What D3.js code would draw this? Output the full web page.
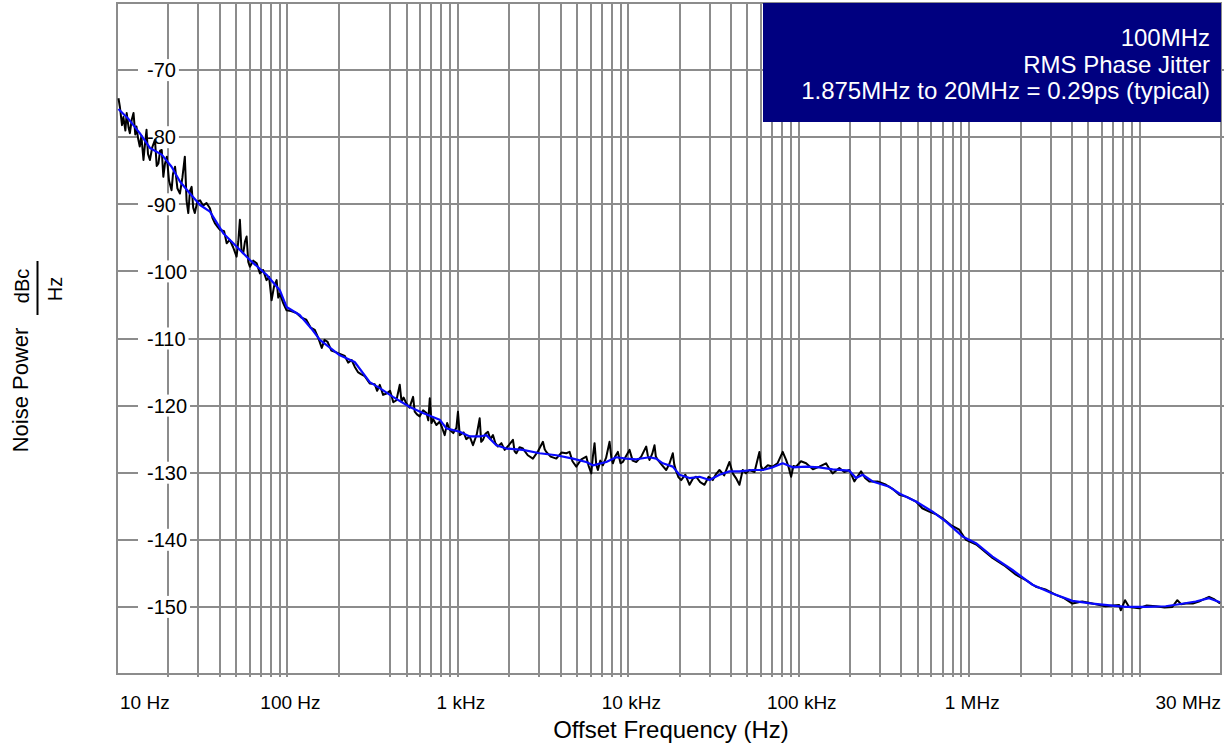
<!DOCTYPE html>
<html>
<head>
<meta charset="utf-8">
<script src="https://cdn.jsdelivr.net/npm/d3@7"></script>
<style>
body { margin: 0; background: #fff; }
svg { display: block; font-family: "Liberation Sans", Arial, sans-serif; }
</style>
</head>
<body>
<div id="c"></div>
<script>
"use strict";

// smoothed trace (blue)
const blueFreq = [10.2, 11.6, 13.6, 15.6, 18.3, 20.9, 23.4, 26.8, 30.7, 35.1, 42, 48.1, 60.2, 75.4, 90.2, 98.8,
    118, 138, 155, 203, 248, 304, 348, 416, 522, 624, 782, 856, 1025, 1173, 1342, 1469, 1681, 1925, 2408,
    3016, 3779, 4727, 5665, 6195, 7422, 8495, 9721, 11130, 13310, 14570, 15930, 18230, 19960, 22850, 26150,
    29930, 34250, 39200, 44860, 53680, 61430, 70310, 80470, 92090, 110400, 132000, 158000, 198000, 216700,
    236800, 271200, 339800, 388900, 487200, 609300, 730200, 913400, 1095000, 1369000, 1794000, 2350000,
    3078000, 4031000, 5281000, 6918000, 8290000, 10860000, 14220000, 17020000, 21320000, 25520000, 29600000]
const blueLevel = [-75.8, -77.2, -79.4, -81.6, -82.6, -84.4, -86.6, -88.4, -90.1, -91.1, -94.3, -95.8, -98.3, -100.5, -102.8, -105.3,
    -106.5, -108.5, -110.2, -112.5, -113.5, -116.5, -117.4, -118.7, -120.2, -121.1, -122.1, -123.4, -123.9, -124.6, -124.6, -124.4, -125.9, -126.4, -126.6,
    -127.1, -127.4, -127.9, -128.4, -128.9, -128.4, -127.7, -127.9, -128.0, -127.7, -127.9, -128.6, -129.1, -130.3, -130.8, -130.6,
    -131.1, -130.3, -129.8, -129.8, -129.6, -129.6, -129.2, -128.6, -129.2, -129.1, -129.2, -129.5, -129.7, -130.8,
    -130.3, -131.3, -132.1, -133.1, -134.3, -135.8, -137.3, -139.5, -140.5, -142.5, -144.5, -146.7,
    -148.0, -149.1, -149.5, -149.8, -150.0, -150.0, -149.9, -149.6, -149.2, -148.7, -149.3]

// raw measurement (black), rows of ten
const rawFreq = [
    10.2, 10.4, 10.7, 10.9, 11.2, 11.4, 11.7, 11.9, 12.2, 12.5,
    12.8, 13.0, 13.3, 13.6, 13.9, 14.3, 14.6, 14.9, 15.2, 15.6,
    16.1, 16.7, 17.1, 17.5, 17.9, 18.3, 18.7, 19.1, 19.6, 20.2,
    20.9, 21.3, 21.9, 22.6, 23.4, 24.2, 25.0, 25.6, 26.2, 26.8,
    27.4, 28.0, 28.6, 29.6, 30.7, 32.0, 33.5, 35.1, 36.3, 37.5,
    39.0, 40.2, 42.5, 44.0, 45.9, 48.0, 50.3, 51.5, 52.6, 53.8,
    55.0, 56.3, 57.6, 58.9, 60.2, 63.0, 66.0, 69.0, 72.0, 75.4,
    78.0, 80.7, 83.5, 86.4, 88.3, 90.2, 94.0, 98.8, 105, 113,
    121, 129, 137, 144.7, 152, 159, 165, 172, 181, 190,
    203, 217, 227, 238, 248, 259, 270, 284, 304, 325,
    336, 348, 364, 381, 400, 418, 436, 456, 467, 480,
    499, 520, 546, 558, 575, 597, 625, 654, 670, 684,
    700, 715, 748, 782, 808, 837, 865, 895, 940, 980,
    1001, 1025, 1080, 1120, 1173, 1226, 1290, 1342, 1370, 1403,
    1450, 1501, 1550, 1606, 1660, 1718, 1800, 1881, 1990, 2104,
    2150, 2203, 2300, 2408, 2570, 2755, 2950, 3154, 3230, 3302,
    3500, 3779, 4050, 4325, 4522, 4700, 4950, 5300, 5665, 5850,
    6060, 6200, 6336, 6480, 6625, 6850, 7088, 7400, 7760, 7950,
    8113, 8400, 8679, 9000, 9283, 9700, 10160, 10600, 11130, 11900,
    12730, 13000, 13310, 13800, 14240, 14500, 14890, 15800, 16680, 17400,
    18230, 18600, 19090, 19700, 20420, 21600, 22850, 23900, 25000, 26400,
    27970, 29600, 31290, 32700, 34250, 36500, 39200, 40990, 42800, 44860,
    46900, 49000, 51330, 55000, 58750, 60000, 61430, 65800, 70310, 75000,
    80470, 84250, 87000, 90150, 93000, 96420, 103000, 110400, 121000, 132000,
    144500, 151000, 158000, 173000, 185000, 198000, 211800, 222000, 231900, 245000,
    259300, 290000, 324900, 355000, 388800, 430000, 487100, 530000, 582900, 640000,
    697600, 780000, 873700, 956600, 1100000, 1369000, 1600000, 1878000, 2150000, 2460000,
    2800000, 3223000, 3600000, 4031000, 4600000, 5281000, 6300000, 7572000, 7748000, 8210000,
    8666000, 9920000, 11000000, 12430000, 14000000, 15550000, 16630000, 17500000, 18630000, 20500000,
    22290000, 24000000, 25520000, 27500000, 29600000]
const rawLevel = [
    -74.2, -75.5, -78.2, -77.0, -79.0, -76.4, -78.6, -79.4, -77.4, -76.4,
    -79.6, -78.4, -80.2, -81.4, -79.8, -83.4, -81.0, -78.9, -82.5, -83.4,
    -81.5, -80.4, -84.3, -83.9, -82.0, -81.9, -85.9, -84.0, -82.9, -86.5,
    -87.9, -85.5, -84.4, -87.6, -88.4, -86.0, -82.9, -89.5, -91.3, -88.0,
    -87.4, -90.5, -91.3, -89.6, -89.4, -90.2, -89.8, -90.6, -92.0, -92.8,
    -93.4, -93.8, -94.0, -95.8, -95.3, -96.4, -97.8, -95.5, -92.3, -97.0,
    -97.3, -95.6, -94.8, -98.6, -99.3, -98.4, -98.8, -100.3, -99.8, -101.3,
    -100.8, -104.3, -102.2, -101.3, -103.9, -103.3, -104.6, -105.8, -105.9, -106.2,
    -106.9, -107.2, -108.4, -108.7, -110.0, -111.4, -110.2, -110.5, -111.8, -112,
    -112.3, -112.6, -113.6, -113.2, -114.2, -115, -115.3, -115.6, -116.7, -116.8,
    -117.8, -116.9, -118.4, -118.2, -117.8, -119.5, -119.2, -116.9, -119.4, -118.8,
    -119.7, -120.3, -118.7, -120.9, -121.3, -121.6, -120.7, -121.1, -122.2, -118.9,
    -122.6, -122.0, -122.9, -122.4, -123.3, -124.4, -122.6, -123.6, -124.1, -123.3,
    -120.9, -124.4, -124.0, -125.0, -124.6, -125.9, -124.3, -121.9, -125.4, -125.1,
    -124.2, -123.9, -125.0, -124.4, -125.6, -126.1, -125.6, -126.6, -125.9, -125.1,
    -126.8, -127.1, -126.2, -126.4, -127.4, -127.9, -126.8, -125.4, -126.5, -126.9,
    -127.6, -127.9, -127.0, -127.1, -126.9, -128.3, -129.1, -128.0, -127.6, -129.0,
    -130.1, -127.5, -125.6, -128.8, -129.6, -128.2, -128.9, -127.8, -125.4, -127.8,
    -128.6, -127.5, -126.9, -128.6, -128.4, -127.5, -126.6, -128.2, -128.4, -127.6,
    -126.1, -127.4, -128.1, -127.2, -125.9, -127.6, -128.1, -128.9, -129.6, -128.7,
    -127.1, -128.8, -129.8, -130.7, -131.1, -130.3, -131.8, -130.9, -130.6, -131.4,
    -131.8, -130.6, -131.1, -130.2, -129.6, -130.4, -128.4, -130.1, -130.8, -131.8,
    -129.6, -130.1, -129.6, -129.9, -126.9, -129.0, -129.6, -128.9, -129.1, -128.6,
    -126.9, -128.1, -129.1, -130.6, -129.0, -129.1, -128.3, -128.6, -129.5, -129.1,
    -128.6, -129.4, -130.1, -129.3, -129.9, -129.6, -131.3, -130.5, -129.8, -130.8,
    -131.3, -131.3, -131.8, -132.4, -133.3, -133.6, -134.3, -135.3, -135.8, -136.2,
    -136.8, -137.8, -138.5, -140.0, -140.7, -142.7, -143.8, -145.2, -146.0, -147.0,
    -147.4, -148.2, -148.7, -149.5, -149.2, -149.5, -149.9, -149.7, -150.5, -149.0,
    -150.0, -150.2, -149.8, -149.9, -150.1, -150.0, -149.0, -149.6, -149.5, -149.5,
    -149.2, -148.8, -148.5, -148.9, -149.5]

const yTicks = [-70, -80, -90, -100, -110, -120, -130, -140, -150]
const xLabelFreqs = [10, 100, 1e3, 1e4, 1e5, 1e6, 3e7]
const xLabelTexts = ["10 Hz", "100 Hz", "1 kHz", "10 kHz", "100 kHz", "1 MHz", "30 MHz"]
const noteLines = ["100MHz", "RMS Phase Jitter", "1.875MHz to 20MHz = 0.29ps (typical)"]

const gridColor = "#8c8c8c"
let svg, xScale, yScale

window.onload = function() {
    drawChart()
}

function drawChart() {
    const left = 117, top = 3, right = 1221, bottom = 674

    svg = d3.select('#c').append('svg')
        .attr('width', 1228).attr('height', 751)

    xScale = d3.scaleLog().domain([10, 3e7]).range([left, right])
    yScale = d3.scaleLinear().domain([-160, -60]).range([bottom, top])

    // vertical grid: 1..9 per decade up to 10 MHz (the 300 Hz line is absent in the original)
    let gridFreqs = []
    for (let e = 1; e <= 6; e++) {
        for (let k = 1; k <= 9; k++) {
            let f = k * Math.pow(10, e)
            if (f > 10 && f !== 300) gridFreqs.push(f)
        }
    }
    gridFreqs.push(1e7)

    let grid = svg.append('g')
    grid.selectAll('line.v')
        .data(gridFreqs)
        .enter().append('line')
            .attr('class', 'v')
            .attr('x1', d => Math.round(xScale(d))).attr('x2', d => Math.round(xScale(d)))
            .attr('y1', top).attr('y2', bottom + 3)
            .attr('stroke', gridColor).attr('stroke-width', 2)
    grid.selectAll('line.h')
        .data(yTicks)
        .enter().append('line')
            .attr('class', 'h')
            .attr('x1', left).attr('x2', right + 3)
            .attr('y1', d => Math.round(yScale(d))).attr('y2', d => Math.round(yScale(d)))
            .attr('stroke', gridColor).attr('stroke-width', 2)
    grid.append('rect')
        .attr('x', left).attr('y', top)
        .attr('width', right - left).attr('height', bottom - top)
        .attr('fill', 'none').attr('stroke', gridColor).attr('stroke-width', 2)

    // y tick labels sit inside the plot on a white patch
    let yl = svg.append('g')
    yTicks.forEach(v => {
        let t = yl.append('text')
            .attr('x', 147).attr('y', yScale(v))
            .attr('dy', '0.36em')
            .style('font-size', '20px')
            .text(v)
        let w = t.node().getComputedTextLength()
        yl.insert('rect', 'text')
            .attr('x', 138).attr('y', yScale(v) - 11)
            .attr('width', w + 12).attr('height', 22)
            .attr('fill', '#fff')
    })

    // traces
    const line = d3.line()
        .x(d => xScale(d[0]))
        .y(d => yScale(d[1]))
    svg.append('path')
        .datum(rawFreq.map((f, i) => [f, rawLevel[i]]))
        .attr('fill', 'none')
        .attr('stroke', '#000')
        .attr('stroke-width', 2)
        .attr('stroke-linejoin', 'round')
        .attr('d', line)
    svg.append('path')
        .datum(blueFreq.map((f, i) => [f, blueLevel[i]]))
        .attr('fill', 'none')
        .attr('stroke', '#0a0aff')
        .attr('stroke-width', 2.2)
        .attr('stroke-linejoin', 'round')
        .attr('d', line)

    // x tick labels
    svg.append('g').selectAll('text')
        .data(xLabelFreqs)
        .enter().append('text')
            .attr('x', (d, i) => i === 0 ? left + 3 : (i === xLabelFreqs.length - 1 ? right : xScale(d) + 3))
            .attr('y', 709)
            .attr('text-anchor', (d, i) => i === 0 ? 'start' : (i === xLabelFreqs.length - 1 ? 'end' : 'middle'))
            .style('font-size', '19px')
            .text((d, i) => xLabelTexts[i])

    // axis titles
    svg.append('text')
        .attr('x', 671).attr('y', 738)
        .attr('text-anchor', 'middle')
        .style('font-size', '24px')
        .text('Offset Frequency (Hz)')

    svg.append('text')
        .attr('transform', 'translate(28,390) rotate(-90)')
        .attr('text-anchor', 'middle')
        .style('font-size', '22px')
        .text('Noise Power')
    svg.append('text')
        .attr('transform', 'translate(29,286) rotate(-90)')
        .attr('text-anchor', 'middle')
        .style('font-size', '20px')
        .text('dBc')
    svg.append('line')
        .attr('x1', 37.5).attr('x2', 37.5)
        .attr('y1', 261).attr('y2', 315)
        .attr('stroke', '#000').attr('stroke-width', 2)
    svg.append('text')
        .attr('transform', 'translate(62,289) rotate(-90)')
        .attr('text-anchor', 'middle')
        .style('font-size', '20px')
        .text('Hz')

    // note box
    let note = svg.append('g')
    note.append('rect')
        .attr('x', 763).attr('y', top)
        .attr('width', right - 763).attr('height', 119)
        .attr('fill', '#000080')
    note.selectAll('text')
        .data(noteLines)
        .enter().append('text')
            .attr('x', 1210)
            .attr('y', (d, i) => 46 + i * 26.7)
            .attr('text-anchor', 'end')
            .attr('fill', '#fff')
            .style('font-size', '24px')
            .text(d => d)
}
</script>
</body>
</html>
